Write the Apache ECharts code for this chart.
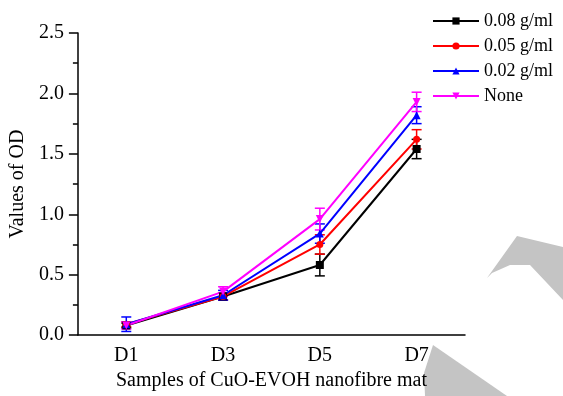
<!DOCTYPE html>
<html>
<head>
<meta charset="utf-8">
<script src="https://cdn.jsdelivr.net/npm/echarts@6/dist/echarts.min.js"></script>
<style>
  html, body { margin: 0; padding: 0; background: #fff; }
  #chart { width: 563px; height: 396px; }
</style>
</head>
<body>
<div id="chart"></div>
<script>
// samples (days)
const days = ['D1', 'D3', 'D5', 'D7'];

// OD values per CuO concentration
const od008 = [0.08, 0.32, 0.58, 1.54];
const od005 = [0.09, 0.32, 0.75, 1.62];
const od002 = [0.09, 0.33, 0.84, 1.82];
const odNone = [0.08, 0.36, 0.96, 1.93];

// error bar half-widths
const err008 = [0.02, 0.03, 0.09, 0.08];
const err005 = [0.02, 0.03, 0.08, 0.08];
const err002 = [0.06, 0.04, 0.08, 0.07];
const errNone = [0.03, 0.04, 0.09, 0.08];

const seriesDefs = [
  { name: '0.08 g/ml', values: od008, errs: err008, color: '#000000', symbol: 'rect' },
  { name: '0.05 g/ml', values: od005, errs: err005, color: '#ff0000', symbol: 'circle' },
  { name: '0.02 g/ml', values: od002, errs: err002, color: '#0000ff', symbol: 'triangle' },
  { name: 'None', values: odNone, errs: errNone, color: '#ff00ff', symbol: 'path://M0,0 L10,0 L5,9 Z' }
];

const serif = '"Liberation Serif", "Times New Roman", serif';

// error bar renderer
const renderErr = color => (params, api) => {
  const lo = api.coord([api.value(0), api.value(1)]);
  const hi = api.coord([api.value(0), api.value(2)]);
  const w = 5;
  const style = { stroke: color, lineWidth: 1.5 };
  return {
    type: 'group',
    children: [
      { type: 'line', shape: { x1: lo[0], y1: lo[1], x2: hi[0], y2: hi[1] }, style },
      { type: 'line', shape: { x1: lo[0] - w, y1: lo[1], x2: lo[0] + w, y2: lo[1] }, style },
      { type: 'line', shape: { x1: hi[0] - w, y1: hi[1], x2: hi[0] + w, y2: hi[1] }, style }
    ]
  };
};

const series = [];
seriesDefs.forEach(s => {
  series.push({
    type: 'custom',
    name: s.name + ' err',
    renderItem: renderErr(s.color),
    data: s.values.map((v, i) => [i, v - s.errs[i], v + s.errs[i]]),
    encode: { x: 0, y: [1, 2] },
    z: 2,
    silent: true
  });
});
seriesDefs.forEach(s => {
  series.push({
    type: 'line',
    name: s.name,
    data: s.values,
    symbol: s.symbol,
    symbolSize: s.symbol === 'circle' ? 7 : 8,
    showSymbol: true,
    lineStyle: { color: s.color, width: 2 },
    itemStyle: { color: s.color },
    z: 3
  });
});

const chart = echarts.init(document.getElementById('chart'));
chart.setOption({
  animation: false,
  backgroundColor: '#fff',
  grid: { left: 77, top: 33, right: 98, bottom: 57, containLabel: false },
  legend: {
    data: seriesDefs.map(s => s.name),
    orient: 'vertical',
    left: 432,
    top: 12,
    padding: 0,
    itemWidth: 46,
    itemHeight: 9,
    itemGap: 7,
    itemStyle: { borderWidth: 0 },
    lineStyle: { width: 2 },
    textStyle: { fontFamily: serif, fontSize: 18, color: '#000', padding: [0, 0, 0, 0] }
  },
  xAxis: {
    type: 'category',
    data: days,
    boundaryGap: true,
    name: 'Samples of CuO-EVOH nanofibre mat',
    nameLocation: 'middle',
    nameGap: 33,
    nameTextStyle: { fontFamily: serif, fontSize: 20, color: '#000' },
    axisLine: { lineStyle: { color: '#000', width: 1.5 } },
    axisTick: { alignWithLabel: true, length: 5, lineStyle: { color: '#000', width: 1.5 } },
    axisLabel: { fontFamily: serif, fontSize: 20, color: '#000', margin: 11 },
    splitLine: { show: false }
  },
  yAxis: {
    type: 'value',
    min: 0,
    max: 2.5,
    interval: 0.5,
    name: 'Values of OD',
    nameLocation: 'middle',
    nameGap: 45,
    nameTextStyle: { fontFamily: serif, fontSize: 20, color: '#000' },
    axisLine: { show: true, lineStyle: { color: '#000', width: 1.5 } },
    axisTick: { show: true, length: 9, lineStyle: { color: '#000', width: 1.5 } },
    minorTick: { show: true, splitNumber: 2, length: 5, lineStyle: { color: '#000', width: 1.5 } },
    axisLabel: { fontFamily: serif, fontSize: 20, color: '#000', margin: 14, formatter: v => v.toFixed(1) },
    splitLine: { show: false }
  },
  graphic: [
    {
      type: 'polygon',
      shape: { points: [[517, 236], [563, 247], [563, 300], [530, 265], [510, 265], [492, 273], [487, 278]] },
      style: { fill: '#c4c4c4' },
      z: -1
    },
    {
      type: 'polygon',
      shape: { points: [[433, 345], [507, 396], [425, 396], [424, 373]] },
      style: { fill: '#c4c4c4' },
      z: -1
    }
  ],
  series
});
</script>
</body>
</html>
